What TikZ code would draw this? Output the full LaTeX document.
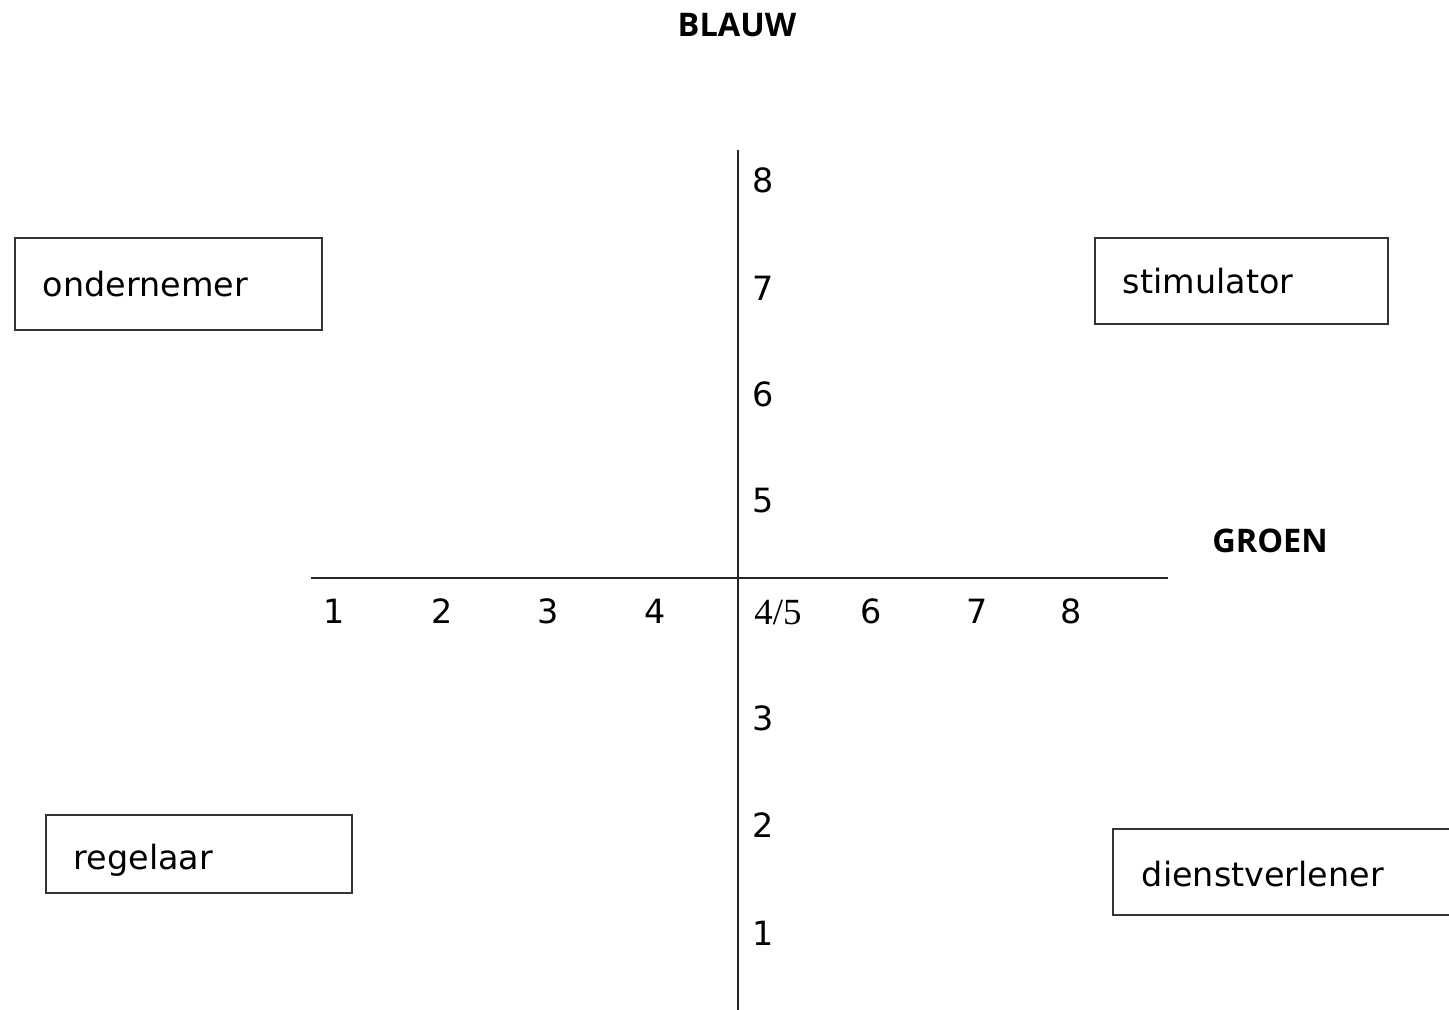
\documentclass[tikz,border=0pt]{standalone}
\usepackage{fontspec}
\setmainfont{DejaVu Sans}
\newfontfamily\headfont{Open Sans}
\newfontfamily\seriffont{Liberation Serif}
\usetikzlibrary{positioning}

\begin{document}
\begin{tikzpicture}[
  x=0.02cm, y=-0.02cm,
  % ---- styles ----
  axis/.style = {draw=black!85, line width=1.1pt},
  rolebox/.style = {
    draw=black!80, line width=1pt,
    anchor=north west,
    inner xsep=0.56cm, inner ysep=0pt,
    align=left,
    font=\fontsize{19}{23}\selectfont
  },
  ticklabel/.style = {font=\fontsize{19}{23}\selectfont, inner sep=0pt},
  colourlabel/.style = {font=\headfont\bfseries\fontsize{18.5}{22}\selectfont, inner sep=0pt}
]

\useasboundingbox (0,0) rectangle (1449,1009);
\clip (0,0) rectangle (1449,1009);

% ============ AXES ============
\coordinate (top) at (738,150);
\coordinate (bottom) at (738,1012);
\coordinate (left) at (311,578);
\coordinate (right) at (1168,578);

\draw[axis] (top) -- (bottom);
\draw[axis] (left) -- (right);

% --- colour names ---
\node[colourlabel] (blauw) at (737,25) {BLAUW};
\node[colourlabel] (groen) at (1270,541) {GROEN};

% --- vertical scale ---
\node[ticklabel] (y8) at (763,180) {8};
\node[ticklabel] (y7) at (763,288) {7};
\node[ticklabel] (y6) at (763,394) {6};
\node[ticklabel] (y5) at (763,501) {5};
\node[ticklabel] (y3) at (763,718) {3};
\node[ticklabel] (y2) at (763,825) {2};
\node[ticklabel] (y1) at (763,933) {1};

% --- horizontal scale ---
\node[ticklabel] (x1) at (334,611) {1};
\node[ticklabel] (x2) at (442,611) {2};
\node[ticklabel] (x3) at (548,611) {3};
\node[ticklabel] (x4) at (655,611) {4};
\node[ticklabel, font=\seriffont\fontsize{21}{25}\selectfont] (mid) at (778,613) {4/5};
\node[ticklabel] (x6) at (871,611) {6};
\node[ticklabel] (x7) at (977,611) {7};
\node[ticklabel] (x8) at (1071,611) {8};

% ============ ROLES ============
\node[rolebox, text width=5.02cm, minimum height=1.84cm] (ondernemer) at (14,237) {ondernemer};
\node[rolebox, text width=4.74cm, minimum height=1.72cm] (stimulator) at (1094,237) {stimulator};
\node[rolebox, text width=5.0cm, minimum height=1.56cm] (regelaar) at (45,814) {\raisebox{-0.12cm}[\height][\depth]{regelaar}};

% dienstverlener runs off the page, no right side
\node[rolebox, draw=none, text width=7.5cm, minimum height=1.68cm] (dienstverlener) at (1113,829) {\raisebox{-0.04cm}[\height][\depth]{dienstverlener}};
\draw[black!80, line width=1pt] (dienstverlener.north east) -- (dienstverlener.north west)
  -- (dienstverlener.south west) -- (dienstverlener.south east);

\end{tikzpicture}
\end{document}
